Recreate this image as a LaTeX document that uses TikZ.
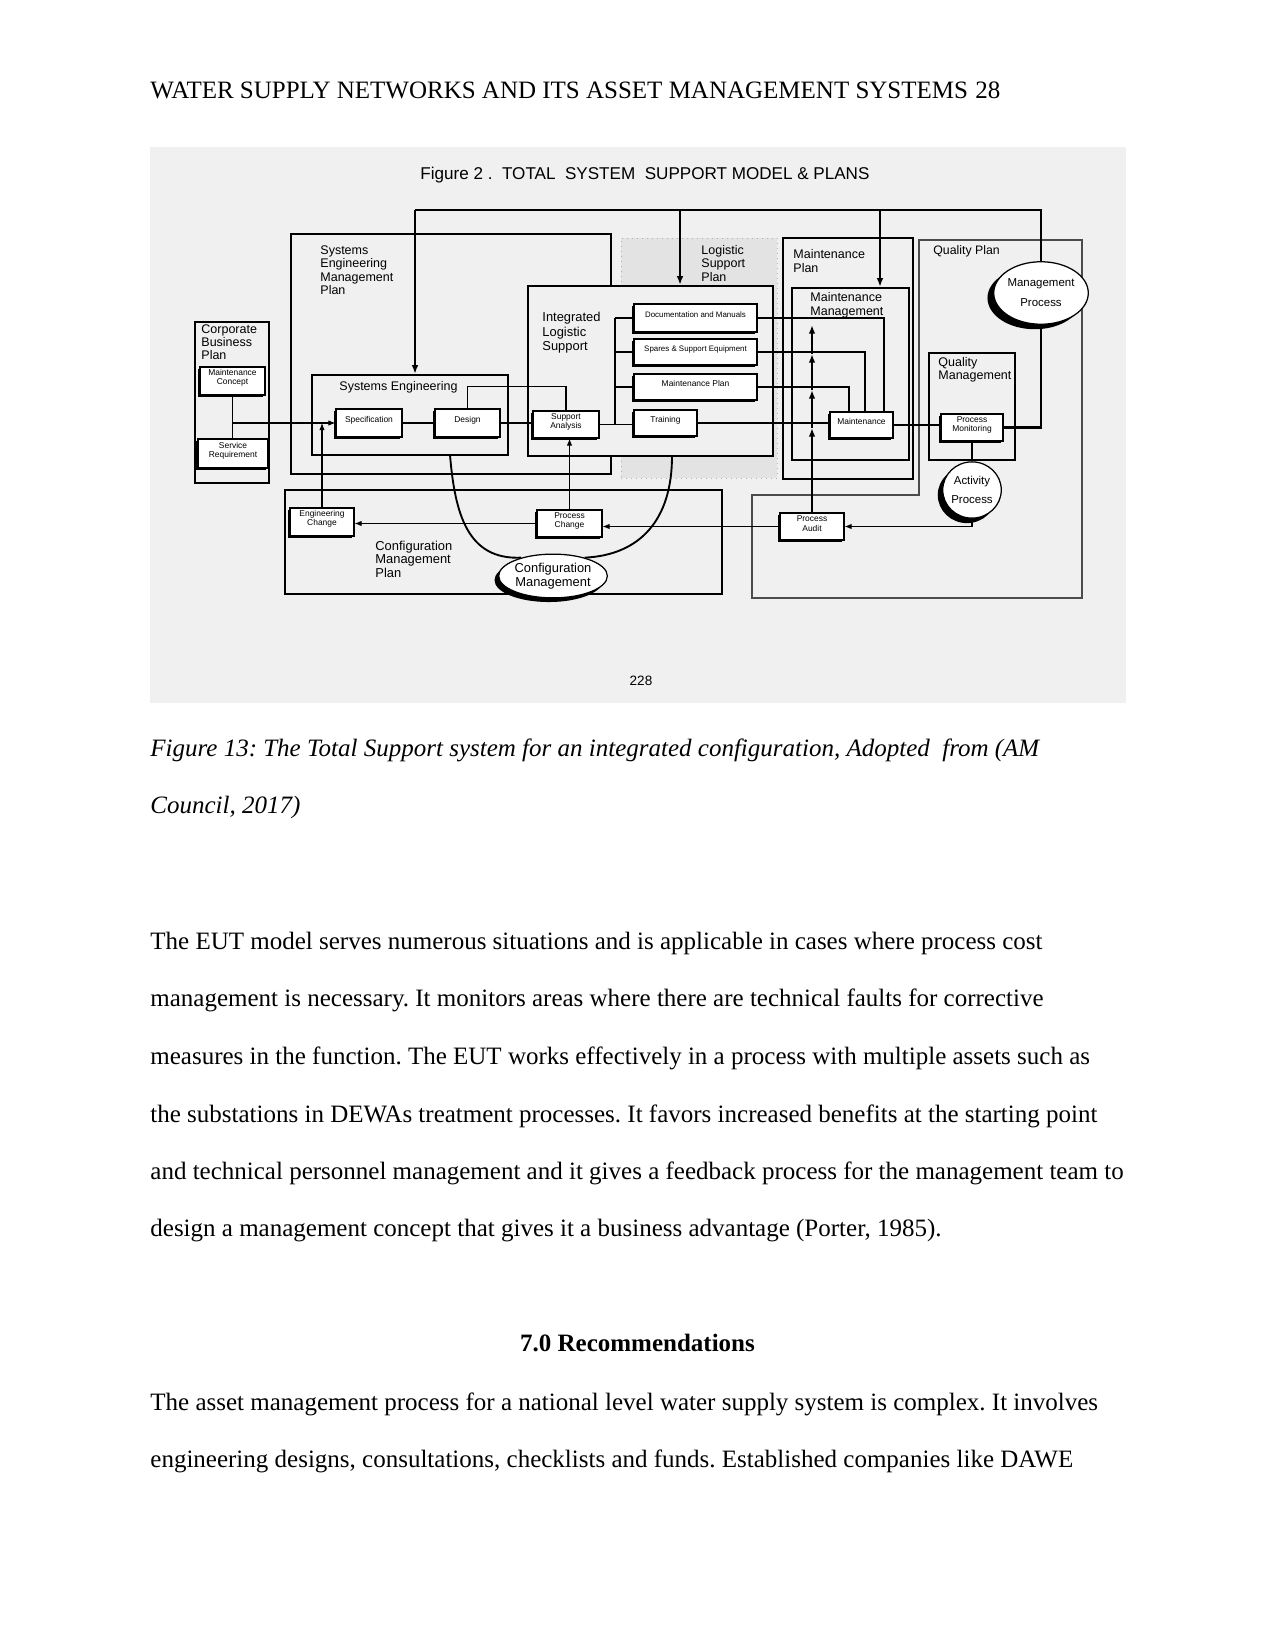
\documentclass[tikz,border=0pt]{standalone}
\usepackage{fontspec}
\setmainfont{Liberation Serif}
\newfontfamily\dg{Liberation Sans}
\usetikzlibrary{fit,shapes.geometric,shadows,arrows.meta}
\frenchspacing
\begin{document}
\frenchspacing
\begin{tikzpicture}[x=0.48pt,y=-0.48pt,
  panel/.style={draw, line width=0.5pt, inner sep=0pt},
  tpanel/.style={draw, line width=1.1pt, inner sep=0pt},
  sbox/.style={draw, line width=0.5pt, inner sep=0pt, fill=white, align=center,
     font=\dg\fontsize{4.05}{4.4}\selectfont,
     drop shadow={shadow xshift=-1.1pt, shadow yshift=-1.1pt, opacity=1, fill=black}},
  lbl/.style={anchor=north west, align=left, inner sep=0pt, font=\dg\fontsize{6}{6.4}\selectfont},
  ln/.style={line width=0.5pt},
  tk/.style={line width=1.1pt},
  arr/.style={-{Latex[length=3.4pt,width=2.6pt]}},
  arrk/.style={-{Latex[length=4.2pt,width=3.2pt]}},
  bodytxt/.style={anchor=base west, inner sep=0pt, font=\fontsize{12}{14}\selectfont},
  circ/.style={ellipse, draw, line width=0.6pt, fill=white, inner sep=0pt, align=center},
]
\useasboundingbox[fill=white] (0,0) rectangle (1275,1650);
\fill[black!6] (150,147) rectangle (1126,703);

% header
\node[bodytxt] (hdr) at (150,99) {WATER SUPPLY NETWORKS AND ITS ASSET MANAGEMENT SYSTEMS};
\node[bodytxt] (pg) at (975,99) {28};

% diagram title
\node[anchor=base west, inner sep=0pt, font=\dg\fontsize{8.2}{9}\selectfont] (title) at (420,180)
  {Figure 2 .\ \ TOTAL\ \ SYSTEM\ \ SUPPORT MODEL \& PLANS};

% panels
\node[fit={(621,238) (777,478)}, inner sep=0pt, fill=black!11, draw=black!30, dotted] (lsp) {};
\node[panel, fit={(291,234) (611,474)}] (semp) {};
\node[panel, fit={(285,490) (722,594)}] (cmp) {};
\draw[line width=0.5pt, black!70] (919,240) -- (1082,240) -- (1082,598) -- (752,598) -- (752,495) -- (919,495) -- cycle;
\node[tpanel, fit={(783,238) (913,479)}] (mpl) {};
\node[tpanel, fit={(792,288) (909,460)}] (mm) {};
\node[tpanel, fill=black!6, fit={(528,286) (773,456)}] (ils) {};
\node[tpanel, fit={(312,375) (508,455)}] (se) {};
\node[tpanel, fit={(195,322) (269,483)}] (cbp) {};
\node[tpanel, fit={(929,353) (1015,460)}] (qm) {};

% panel labels
\node[lbl] (lsemp) at (320,245.5) {Systems\\Engineering\\Management\\Plan};
\node[lbl] (llsp) at (701,245) {Logistic\\Support\\Plan};
\node[lbl, font=\dg\fontsize{6.2}{7}\selectfont] (lils) at (542,312) {Integrated\\Logistic\\Support};
\node[lbl] (lse) at (339,381.5) {Systems Engineering};
\node[lbl, font=\dg\fontsize{6}{6.3}\selectfont] (lcbp) at (201,324.5) {Corporate\\Business\\Plan};
\node[lbl] (lmpl) at (793,249.5) {Maintenance\\Plan};
\node[lbl, font=\dg\fontsize{6}{6.5}\selectfont] (lmm) at (810,292) {Maintenance\\Management};
\node[lbl, font=\dg\fontsize{5.9}{6.5}\selectfont] (lqp) at (933,245.5) {Quality Plan};
\node[lbl, font=\dg\fontsize{6}{6}\selectfont] (lqm) at (938,357.5) {Quality\\Management};
\node[lbl, font=\dg\fontsize{6.2}{6.5}\selectfont] (lcmp) at (375,540.5) {Configuration\\Management\\Plan};

% small boxes
\node[sbox, fit={(200,367) (265,395)}] (mc) {Maintenance\\Concept};
\node[sbox, fit={(198,439) (268,468)}] (sr) {Service\\Requirement};
\node[sbox, fit={(336,409) (402,437)}] (spec) {Specification};
\node[sbox, fit={(435,409) (500,437)}] (des) {Design};
\node[sbox, fit={(533,411) (599,438)}] (sa) {Support\\Analysis};
\node[sbox, font=\dg\fontsize{3.8}{4.5}\selectfont, fit={(634,304) (757,332)}] (doc) {Documentation and Manuals};
\node[sbox, font=\dg\fontsize{3.8}{4.5}\selectfont, fit={(634,339) (757,365)}] (spa) {Spares \& Support Equipment};
\node[sbox, fit={(634,374) (757,400)}] (mpb) {Maintenance Plan};
\node[sbox, fit={(634,410) (697,436)}] (tr) {Training};
\node[sbox, fit={(830,412) (893,438)}] (mt) {Maintenance};
\node[sbox, fit={(941,414) (1003,441)}] (pm) {Process\\Monitoring};
\node[sbox, fit={(290,508) (354,536)}] (ec) {Engineering\\Change};
\node[sbox, fit={(537,510) (602,537)}] (pc) {Process\\Change};
\node[sbox, fit={(780,513) (844,540)}] (pa) {Process\\Audit};

% ellipses
\node[circ, minimum width=37pt, minimum height=30pt, font=\dg\fontsize{5.5}{9.6}\selectfont,
  drop shadow={shadow xshift=-3pt, shadow yshift=-2.4pt, opacity=1, fill=black}] (mp) at (1041,293) {Management\\Process};
\node[circ, minimum width=28pt, minimum height=27pt, font=\dg\fontsize{5.5}{8.8}\selectfont,
  drop shadow={shadow xshift=-2.4pt, shadow yshift=-2.4pt, opacity=1, fill=black}] (act) at (972,490) {Activity\\Process};
\node[circ, minimum width=47pt, minimum height=21pt, font=\dg\fontsize{6.2}{6.4}\selectfont,
  drop shadow={shadow xshift=-2pt, shadow yshift=-2pt, opacity=1, fill=black}] (cm) at (553,576) {Configuration\\Management};

\node[inner sep=0pt, font=\dg\fontsize{6.5}{7}\selectfont] (pnum) at (641,681) {228};

% top feedback line
\coordinate (t1) at (415,210);
\coordinate (t2) at (1041,210);
\coordinate (t3) at (680,210);
\coordinate (t4) at (880,210);
\draw[tk] (mp.north) -- (t2) -- (t1);
\draw[tk,arrk] (t1) -- (t1 |- se.north);
\draw[tk,arrk] (t3) -- (t3 |- ils.north);
\draw[tk,arrk] (t4) -- (t4 |- mm.north);
\draw[tk] (mp.south) |- (pm.east);

% quality / audit
\draw[ln] (pm.south) -- (pm.south |- act.north);
\draw[ln,arr] (act.south) |- (pa.east);
\draw[ln,arr] (pa.west) -- (pa.west -| pc.east);
\draw[ln,arr] (pc.west) -- (pc.west -| ec.east);
\draw[ln,arr] (pc.north) -- (pc.north |- sa.south);
\draw[ln,arr] (ec.north) -- (ec.north |- spec.west);

% corporate / systems engineering
\draw[ln] (mc.south) -- (mc.south |- sr.north);
\coordinate (cj) at (mc.south |- spec.west);
\draw[ln,arr] (cj) -- (spec.west);
\draw[ln] (spec.east) -- (des.west);
\draw[ln] (des.north) -- ++(0,-22) -| (sa.north);
\draw[ln] (des.east) -- (des.east -| sa.west);
\draw[ln] (sa.east) -- (sa.east -| tr.west);

% ILS bus
\coordinate (bus) at (615,300);
\draw[ln] (doc.west -| bus) -- (sa.east -| bus);
\draw[ln] (doc.west -| bus) -- (doc.west);
\draw[ln] (spa.west -| bus) -- (spa.west);
\draw[ln] (mpb.west -| bus) -- (mpb.west);

% to maintenance
\coordinate (m1) at (884,300);
\coordinate (m2) at (865,300);
\coordinate (m3) at (849,300);
\draw[ln] (doc.east) -| (m1 |- mt.north);
\draw[ln] (spa.east) -| (m2 |- mt.north);
\draw[ln] (mpb.east) -| (m3 |- mt.north);
\draw[ln] (tr.east) -- (tr.east -| mt.west);
\draw[ln] (mt.east) -- (mt.east -| pm.west);

% audit feedback line with arrowheads
\coordinate (v1) at (812,428);
\coordinate (v2) at (812,390);
\coordinate (v3) at (812,354);
\coordinate (v4) at (812,325);
\draw[tk,arrk] (pa.north) -- (v1);
\draw[tk,arrk] (v1) -- (v2);
\draw[tk,arrk] (v2) -- (v3);
\draw[tk,arrk] (v3) -- (v4);

% configuration management loop
\coordinate (cl) at (450,455);
\coordinate (cr) at (672,456);
\draw[line width=0.9pt] (cl) .. controls (455,515) and (468,560) .. (cm.150);
\draw[line width=0.9pt] (cm.30) .. controls (640,555) and (672,520) .. (cr);

% caption
\node[bodytxt, font=\fontsize{12}{14}\selectfont\itshape] (cap1) at (150,756)
  {Figure 13: The Total Support system for an integrated configuration, Adopted\ \ from (AM};
\node[bodytxt, font=\fontsize{12}{14}\selectfont\itshape] (cap2) at (150,813) {Council, 2017)};

% body
\node[bodytxt] (b1) at (150,949) {The EUT model serves numerous situations and is applicable in cases where process cost};
\node[bodytxt] (b2) at (150,1006) {management is necessary. It monitors areas where there are technical faults for corrective};
\node[bodytxt] (b3) at (150,1064) {measures in the function. The EUT works effectively in a process with multiple assets such as};
\node[bodytxt] (b4) at (150,1122) {the substations in DEWAs treatment processes. It favors increased benefits at the starting point};
\node[bodytxt] (b5) at (150,1179) {and technical personnel management and it gives a feedback process for the management team to};
\node[bodytxt] (b6) at (150,1236) {design a management concept that gives it a business advantage (Porter, 1985).};
\node[anchor=base, inner sep=0pt, font=\fontsize{12}{14}\selectfont\bfseries] (h7) at (637.5,1351) {7.0 Recommendations};
\node[bodytxt] (b7) at (150,1410) {The asset management process for a national level water supply system is complex. It involves};
\node[bodytxt] (b8) at (150,1467) {engineering designs, consultations, checklists and funds. Established companies like DAWE};
\end{tikzpicture}
\end{document}
